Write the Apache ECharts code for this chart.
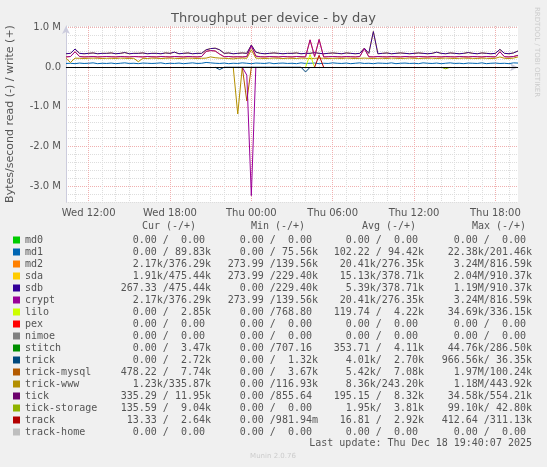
<!DOCTYPE html>
<html>
<head>
<meta charset="utf-8">
<script src="https://cdn.jsdelivr.net/npm/echarts@6/dist/echarts.min.js"></script>
<style>
html, body { margin: 0; padding: 0; background: #f0f0f0; }
#chart { width: 547px; height: 467px; }
</style>
</head>
<body>
<div id="chart"></div>
<script>
// time axis: 20-minute steps from Wed 10:20 to Thu 19:40
var times = [];
for (var t = 10 * 60 + 20; t <= 43 * 60 + 40; t += 20) {
    var h = Math.floor(t / 60), m = t % 60;
    times.push((h >= 24 ? 'Thu ' : 'Wed ') + ('0' + (h % 24)).slice(-2) + ':' + ('0' + m).slice(-2));
}

// write values in kB/s
var sdbWrite = [340,350,460,350,340,350,360,340,350,350,
                360,340,350,370,340,350,350,360,340,350,
                350,340,360,350,380,340,350,360,340,350,
                350,440,470,480,440,350,360,340,350,360,
                350,560,380,350,340,350,360,350,340,350,
                350,360,340,350,350,370,350,340,350,360,
                350,340,360,350,340,350,480,350,900,340,
                350,360,340,350,360,350,340,350,360,350,
                340,350,380,350,340,360,350,340,350,370,
                350,340,360,350,340,350,450,350,340,360,
                410];
var cryptWrite = [260,270,390,270,260,265,270,260,265,270,
                  265,260,270,265,260,270,265,260,270,265,
                  260,270,265,260,270,265,260,270,265,260,
                  270,400,420,410,330,265,270,260,265,260,
                  270,540,280,265,260,270,265,260,270,265,
                  260,270,265,260,690,270,700,260,265,270,
                  265,260,270,265,260,270,470,265,260,270,
                  265,260,270,265,260,270,265,260,270,265,
                  260,270,265,260,270,265,260,270,265,260,
                  270,265,260,270,265,260,390,265,260,270,
                  300];
var trickWwwWrite = [225,120,230,225,220,225,230,225,220,225,
                     225,220,230,225,220,225,140,225,220,230,
                     225,220,225,230,225,220,225,230,225,220,
                     225,230,260,240,230,225,220,210,225,230,
                     225,440,230,225,220,225,230,225,220,225,
                     225,220,230,225,220,225,230,225,220,225,
                     225,220,230,225,220,225,230,225,220,225,
                     225,220,230,225,220,225,230,225,220,225,
                     225,230,220,225,230,225,220,225,230,225,
                     225,220,230,225,220,225,260,225,220,230,
                     260];
var md1Write = [95,100,90,105,95,100,110,90,100,95,
                105,90,100,110,95,100,90,105,100,95,
                100,110,90,100,95,105,90,100,110,95,
                100,120,110,100,95,105,90,100,95,110,
                100,90,105,100,95,110,90,100,105,95,
                100,90,110,95,100,105,90,100,95,110,
                100,95,105,90,100,110,95,100,90,105,
                100,95,110,90,100,105,95,100,90,110,
                100,95,105,90,100,110,95,100,90,105,
                100,95,110,90,100,105,95,100,90,110,
                105];
var liloWrite = [[53, 0], [54, 320], [55, 0]];
var trackWrite = [[55, 0], [56, 300], [57, 0]];

// read values in kB/s (drawn negative)
var cryptRead = [[39, 0], [40, 200], [41, 3240], [42, 0]];
var trickMysqlRead = [[39, 0], [40, 850], [41, 0]];
var trickWwwRead = [[37, 0], [38, 1180], [39, 0]];
var trickRead = [[33, 0], [34, 60], [35, 0], [52, 0], [53, 120], [54, 0]];
var tickStorageRead = [[83, 0], [84, 40], [85, 0]];

// legend table
var names = ['md0','md1','md2','sda','sdb','crypt','lilo','pex','nimoe','stitch','trick',
             'trick-mysql','trick-www','tick','tick-storage','track','track-home'];
var colors = ['#00cc00','#0066b3','#ff8000','#ffcc00','#330099','#990099','#ccff00','#ff0000',
              '#808080','#008f00','#00487d','#b35a00','#b38f00','#6b006b','#8fb300','#b30000','#bebebe'];
var Z = '  0.00 /  0.00 ';
var curCol = [Z,'  0.00 / 89.83k','  2.17k/376.29k','  1.91k/475.44k','267.33 /475.44k','  2.17k/376.29k',
              '  0.00 /  2.85k',Z,Z,'  0.00 /  3.47k','  0.00 /  2.72k','478.22 /  7.74k','  1.23k/335.87k',
              '335.29 / 11.95k','135.59 /  9.04k',' 13.33 /  2.64k',Z];
var minCol = [Z,'  0.00 / 75.56k','273.99 /139.56k','273.99 /229.40k','  0.00 /229.40k','273.99 /139.56k',
              '  0.00 /768.80 ',Z,Z,'  0.00 /707.16 ','  0.00 /  1.32k','  0.00 /  3.67k','  0.00 /116.93k',
              '  0.00 /855.64 ',Z,'  0.00 /981.94m',Z];
var avgCol = [Z,'102.22 / 94.42k',' 20.41k/276.35k',' 15.13k/378.71k','  5.39k/378.71k',' 20.41k/276.35k',
              '119.74 /  4.22k',Z,Z,'353.71 /  4.11k','  4.01k/  2.70k','  5.42k/  7.08k','  8.36k/243.20k',
              '195.15 /  8.32k','  1.95k/  3.81k',' 16.81 /  2.92k',Z];
var maxCol = [Z,' 22.38k/201.46k','  3.24M/816.59k','  2.04M/910.37k','  1.19M/910.37k','  3.24M/816.59k',
              ' 34.69k/336.15k',Z,Z,' 44.76k/286.50k','966.56k/ 36.35k','  1.97M/100.24k','  1.18M/443.92k',
              ' 34.58k/554.21k',' 99.10k/ 42.80k','412.64 /311.13k',Z];

function full(arr, sign) {
    return arr.map(function (v) { return sign * v * 1000; });
}
function pairs(arr, sign) {
    return arr.map(function (p) { return [p[0], sign * p[1] * 1000]; });
}
function line(name, data, color) {
    return {
        name: name, type: 'line', data: data, showSymbol: false, silent: true,
        lineStyle: { color: color, width: 1 }, itemStyle: { color: color }
    };
}

var mono = '10px "DejaVu Sans Mono"';
var graphic = [
    { type: 'text', left: 'center', top: 12, style: { text: 'Throughput per device - by day', font: '13px "DejaVu Sans"', fill: '#555' } },
    { type: 'text', x: 10, y: 114, rotation: Math.PI / 2,
      style: { text: 'Bytes/second read (-) / write (+)', font: '11px "DejaVu Sans"', fill: '#555', align: 'center', verticalAlign: 'middle' } },
    { type: 'text', x: 537, y: 52, rotation: -Math.PI / 2,
      style: { text: 'RRDTOOL / TOBI OETIKER', font: '7px "DejaVu Sans"', fill: '#ccc', align: 'center', verticalAlign: 'middle' } },
    { type: 'text', x: 169, y: 226, style: { text: 'Cur (-/+)', font: mono, fill: '#555', align: 'center', verticalAlign: 'middle' } },
    { type: 'text', x: 278, y: 226, style: { text: 'Min (-/+)', font: mono, fill: '#555', align: 'center', verticalAlign: 'middle' } },
    { type: 'text', x: 389, y: 226, style: { text: 'Avg (-/+)', font: mono, fill: '#555', align: 'center', verticalAlign: 'middle' } },
    { type: 'text', x: 499, y: 226, style: { text: 'Max (-/+)', font: mono, fill: '#555', align: 'center', verticalAlign: 'middle' } },
    { type: 'text', x: 532, y: 443, style: { text: 'Last update: Thu Dec 18 19:40:07 2025', font: mono, fill: '#555', align: 'right', verticalAlign: 'middle' } },
    { type: 'text', x: 273, y: 456, style: { text: 'Munin 2.0.76', font: '7px "DejaVu Sans"', fill: '#ccc', align: 'center', verticalAlign: 'middle' } }
];
names.forEach(function (n, i) {
    var y = 240 + i * 12;
    graphic.push({ type: 'rect', shape: { x: 13, y: y - 3.5, width: 7, height: 7 }, style: { fill: colors[i] } });
    graphic.push({ type: 'text', x: 25, y: y, style: { text: n, font: mono, fill: '#555', verticalAlign: 'middle' } });
    [[curCol, 211], [minCol, 318], [avgCol, 424], [maxCol, 532]].forEach(function (c) {
        graphic.push({ type: 'text', x: c[1], y: y, style: { text: c[0][i], font: mono, fill: '#555', align: 'right', verticalAlign: 'middle' } });
    });
});

var dom = document.getElementById('chart');
var myChart = echarts.init(dom);
var option = {
    animation: false,
    backgroundColor: '#f0f0f0',
    grid: { left: 66, right: 29, top: 26, bottom: 265, backgroundColor: '#fff', show: true, borderWidth: 0 },
    xAxis: {
        type: 'category',
        data: times,
        boundaryGap: false,
        axisLine: { lineStyle: { color: '#ccccdd' }, symbol: ['none', 'arrow'], symbolSize: [6, 8] },
        axisTick: { show: false },
        axisLabel: {
            color: '#555', fontFamily: 'DejaVu Sans', fontSize: 10, margin: 6,
            interval: function (i) { return (i - 5) % 18 === 0 && i >= 5; },
            formatter: function (v) { return v; }
        },
        splitLine: {
            show: true,
            interval: function (i) { return i % 3 === 2; },
            lineStyle: { color: ['#dddddd', '#f0b0b0', '#dddddd', '#dddddd', '#dddddd', '#dddddd'], type: 'dotted', width: 1 }
        }
    },
    yAxis: {
        type: 'value',
        min: -3.4e6,
        max: 1.04e6,
        interval: 0.2e6,
        axisLine: { show: true, lineStyle: { color: '#ccccdd' }, symbol: ['none', 'arrow'], symbolSize: [6, 8] },
        axisTick: { show: false },
        axisLabel: {
            color: '#555', fontFamily: 'DejaVu Sans', fontSize: 10, margin: 5,
            formatter: function (v) {
                var m = Math.round(v / 1e5);
                if (m % 10 !== 0) return '';
                return m === 0 ? '0.0' : (m / 10).toFixed(1) + ' M';
            }
        },
        splitLine: {
            lineStyle: { color: ['#dddddd', '#dddddd', '#f0b0b0', '#dddddd', '#dddddd'], type: 'dotted', width: 1 }
        }
    },
    graphic: graphic,
    series: [
        line('md1', full(md1Write, 1), colors[1]),
        line('trick-www', full(trickWwwWrite, 1), colors[12]),
        line('md2', full(cryptWrite, 1), colors[2]),
        line('sda', full(sdbWrite, 1), colors[3]),
        line('sdb', full(sdbWrite, 1), colors[4]),
        line('crypt', full(cryptWrite, 1), colors[5]),
        line('lilo', pairs(liloWrite, 1), colors[6]),
        line('track', pairs(trackWrite, 1), colors[15]),
        line('trick r', pairs(trickRead, -1), colors[10]),
        line('tick-storage r', pairs(tickStorageRead, -1), colors[14]),
        line('trick-www r', pairs(trickWwwRead, -1), colors[12]),
        line('trick-mysql r', pairs(trickMysqlRead, -1), colors[11]),
        Object.assign(line('crypt r', pairs(cryptRead, -1), colors[5]), {
            markLine: {
                silent: true, symbol: 'none', label: { show: false },
                lineStyle: { color: '#000', type: 'solid', width: 1 },
                data: [{ yAxis: 0 }]
            }
        })
    ]
};
myChart.setOption(option, true);
</script>
</body>
</html>
